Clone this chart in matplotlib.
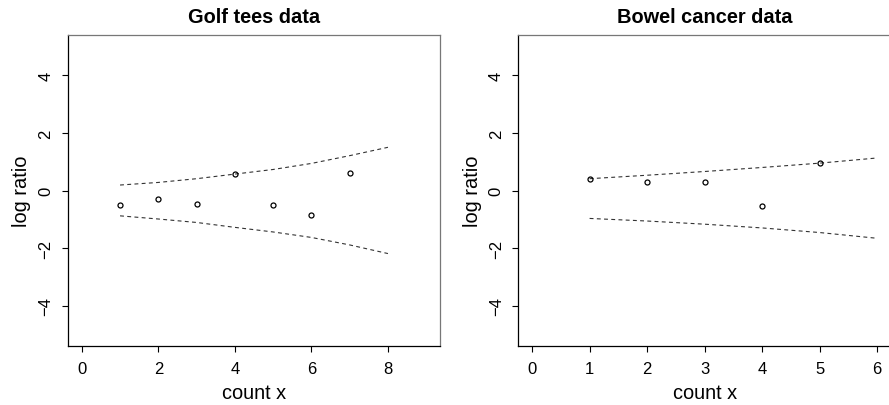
import matplotlib
matplotlib.use("Agg")
import matplotlib.pyplot as plt

plt.rcParams['font.family'] = ['Liberation Sans', 'DejaVu Sans']

# golf tees data
golf_x = [1, 2, 3, 4, 5, 6, 7]
golf_y = [-0.49, -0.28, -0.48, 0.58, -0.49, -0.85, 0.61]
golf_band_x = [1, 2, 3, 4, 5, 6, 7, 8]
golf_upper = [0.19, 0.28, 0.41, 0.57, 0.73, 0.94, 1.21, 1.50]
golf_lower = [-0.88, -0.99, -1.11, -1.28, -1.44, -1.63, -1.89, -2.19]

# bowel cancer data
bowel_x = [1, 2, 3, 4, 5]
bowel_y = [0.41, 0.29, 0.28, -0.54, 0.95]
bowel_band_x = [1, 2, 3, 4, 5, 6]
bowel_upper = [0.41, 0.53, 0.66, 0.80, 0.95, 1.13]
bowel_lower = [-0.97, -1.06, -1.17, -1.30, -1.46, -1.66]

fig = plt.figure(figsize=(8.89, 4.06), dpi=100)
ax1 = fig.add_axes([68/889, 1-347/406, (440-68)/889, (347-36)/406])
ax2 = fig.add_axes([518.3/889, 1-347/406, (891-518.3)/889, (347-36)/406])


def panel(ax, x, y, bx, up, lo, xmax, xticks, title):
    ax.plot(bx, up, color='#333333', lw=0.8, linestyle=(0, (3.5, 3)))
    ax.plot(bx, lo, color='#333333', lw=0.8, linestyle=(0, (3.5, 3)))
    ax.plot(x, y, 'o', mfc='none', mec='black', ms=3.6, mew=0.9)
    ax.set_xlim(-0.04*xmax, xmax*1.04)
    ax.set_ylim(-5.4, 5.4)
    ax.set_xticks(xticks)
    ax.set_yticks([-4, -2, 0, 2, 4])
    ax.set_yticklabels(['\u22124', '\u22122', '0', '2', '4'], rotation=90, va='center')
    ax.tick_params(direction='out', length=4.5, width=0.8, labelsize=12, pad=6, color='black')
    ax.set_xlabel('count x', fontsize=14.4, labelpad=5)
    ax.set_ylabel('log ratio', fontsize=14.4, labelpad=5)
    ax.set_title(title, fontsize=14.4, fontweight='bold', pad=9.5)
    for s in ['left', 'bottom']:
        ax.spines[s].set_color('black')
        ax.spines[s].set_linewidth(0.9)
    for s in ['top', 'right']:
        ax.spines[s].set_color('#777777')
        ax.spines[s].set_linewidth(0.9)


panel(ax1, golf_x, golf_y, golf_band_x, golf_upper, golf_lower, 9, [0, 2, 4, 6, 8], 'Golf tees data')
panel(ax2, bowel_x, bowel_y, bowel_band_x, bowel_upper, bowel_lower, 6, [0, 1, 2, 3, 4, 5, 6], 'Bowel cancer data')

fig.savefig('out.png', dpi=100)
